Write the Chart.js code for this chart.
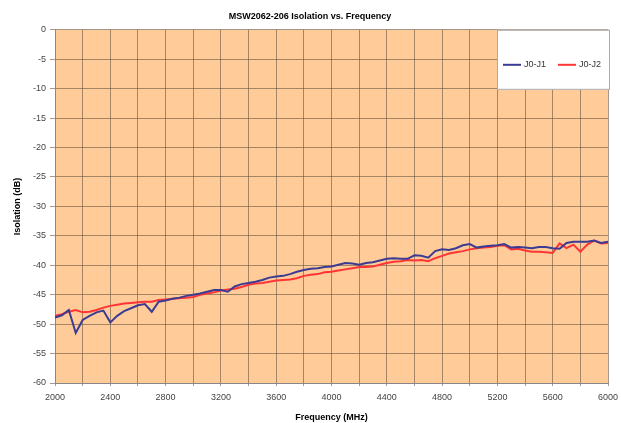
<!DOCTYPE html>
<html>
<head>
<meta charset="utf-8">
<script src="https://cdn.jsdelivr.net/npm/chart.js@4/dist/chart.umd.min.js"></script>
<style>
  body { margin: 0; background: #fff; }
  #wrap { width: 621px; height: 423px; }
</style>
</head>
<body>
<div id="wrap"><canvas id="chart"></canvas></div>
<script>
// frequency points (MHz), 50 MHz step
const freqs = [];
for (let f = 2000; f <= 6000; f += 50) freqs.push(f);

// J0-J1 isolation (dB)
const j0j1 = [
  -48.9, -48.5, -47.6, -51.5, -49.3, -48.6, -48.0, -47.7, -49.7, -48.6,
  -47.8, -47.3, -46.8, -46.6, -47.9, -46.2, -46.0, -45.7, -45.5, -45.2,
  -45.0, -44.8, -44.5, -44.2, -44.2, -44.5, -43.6, -43.2, -43.0, -42.8,
  -42.5, -42.1, -41.9, -41.8, -41.5, -41.1, -40.8, -40.6, -40.5, -40.3,
  -40.2, -39.9, -39.6, -39.7, -39.9, -39.6, -39.5, -39.2, -38.9, -38.8,
  -38.9, -38.9, -38.3, -38.4, -38.7, -37.6, -37.3, -37.4, -37.1, -36.6,
  -36.4, -37.0, -36.8, -36.7, -36.6, -36.4, -37.0, -36.9, -37.0, -37.1,
  -36.9, -36.9, -37.1, -37.2, -36.2, -36.0, -36.0, -36.0, -35.8, -36.2,
  -36.0
];

// J0-J2 isolation (dB)
const j0j2 = [
  -48.6, -48.3, -47.9, -47.6, -48.0, -47.9, -47.6, -47.2, -46.9, -46.7,
  -46.5, -46.4, -46.3, -46.2, -46.2, -45.9, -45.8, -45.7, -45.6, -45.5,
  -45.4, -45.0, -44.8, -44.6, -44.3, -44.1, -44.0, -43.7, -43.3, -43.1,
  -43.0, -42.8, -42.6, -42.5, -42.4, -42.2, -41.8, -41.6, -41.5, -41.2,
  -41.1, -40.9, -40.7, -40.5, -40.3, -40.3, -40.2, -39.9, -39.6, -39.4,
  -39.3, -39.1, -39.2, -39.1, -39.3, -38.8, -38.4, -38.0, -37.8, -37.6,
  -37.3, -37.1, -37.0, -36.9, -36.7, -36.6, -37.3, -37.2, -37.5, -37.7,
  -37.7, -37.8, -37.9, -36.3, -37.1, -36.5, -37.7, -36.5, -35.8, -36.3,
  -36.2
];

const seriesNames = ["J0-J1", "J0-J2"];
const seriesColors = ["#3b3b94", "#ff3535"];

const FONT = "Arial, 'Liberation Sans', sans-serif";
const toPoints = (vals) => vals.map((v, i) => ({ x: freqs[i], y: v }));

// orange plot background
const plotBg = {
  id: "plotBg",
  beforeDraw(chart) {
    const { ctx, chartArea: a } = chart;
    ctx.save();
    ctx.fillStyle = "#ffcc99";
    ctx.fillRect(a.left, a.top, a.right - a.left, a.bottom - a.top);
    ctx.restore();
  }
};

// Excel-style legend box inside the top right corner
const boxLegend = {
  id: "boxLegend",
  afterDraw(chart) {
    const { ctx, chartArea: a } = chart;
    const x0 = a.right - 111, y0 = a.top, w = 113, h = 60;
    ctx.save();
    ctx.fillStyle = "#fff";
    ctx.fillRect(x0, y0, w, h);
    ctx.strokeStyle = "#aaa";
    ctx.lineWidth = 1;
    ctx.strokeRect(x0 + 0.5, y0 + 0.5, w - 1, h - 1);
    ctx.font = "9px " + FONT;
    ctx.fillStyle = "#333";
    ctx.textBaseline = "middle";
    let x = x0 + 6;
    const y = y0 + 35;
    chart.data.datasets.forEach((ds) => {
      ctx.strokeStyle = ds.borderColor;
      ctx.lineWidth = 2;
      ctx.beginPath();
      ctx.moveTo(x, y);
      ctx.lineTo(x + 18, y);
      ctx.stroke();
      ctx.fillText(ds.label, x + 21, y);
      x += 55;
    });
    ctx.restore();
  }
};

new Chart(document.getElementById("chart"), {
  type: "line",
  data: {
    datasets: [
      {
        label: seriesNames[0],
        data: toPoints(j0j1),
        borderColor: seriesColors[0],
        borderWidth: 2,
        pointRadius: 0,
        tension: 0
      },
      {
        label: seriesNames[1],
        data: toPoints(j0j2),
        borderColor: seriesColors[1],
        borderWidth: 2,
        pointRadius: 0,
        tension: 0
      }
    ]
  },
  options: {
    responsive: true,
    maintainAspectRatio: false,
    animation: false,
    layout: { padding: { top: 3, right: 13, left: 12, bottom: 0 } },
    plugins: {
      legend: { display: false },
      tooltip: { enabled: false },
      title: {
        display: true,
        text: "MSW2062-206 Isolation vs. Frequency",
        color: "#000",
        font: { family: FONT, size: 9, weight: "bold" },
        padding: { top: 8, bottom: 8 }
      }
    },
    scales: {
      x: {
        type: "linear",
        min: 2000,
        max: 6000,
        ticks: {
          stepSize: 200,
          autoSkip: false,
          maxRotation: 0,
          color: "#444",
          font: { family: FONT, size: 9 },
          padding: 6,
          callback: (v) => (v % 400 === 0 ? String(v) : "")
        },
        grid: { color: "rgba(105,85,65,0.6)", lineWidth: 1, tickLength: 3 },
        border: { color: "#888" },
        title: {
          display: true,
          text: "Frequency (MHz)",
          color: "#000",
          font: { family: FONT, size: 9, weight: "bold" },
          padding: { top: 1, bottom: 0 }
        },
        afterFit: (s) => {
          s.height = 40;
          s.paddingLeft = 0;
          s.paddingRight = 0;
        }
      },
      y: {
        min: -60,
        max: 0,
        ticks: {
          stepSize: 5,
          color: "#444",
          font: { family: FONT, size: 9 },
          padding: 4
        },
        grid: { color: "rgba(105,85,65,0.6)", lineWidth: 1, tickLength: 5 },
        border: { color: "#888" },
        title: {
          display: true,
          text: "Isolation (dB)",
          color: "#000",
          font: { family: FONT, size: 9, weight: "bold" },
          padding: { top: 0, bottom: 4 }
        },
        afterFit: (s) => { s.width = 43; }
      }
    }
  },
  plugins: [plotBg, boxLegend]
});
</script>
</body>
</html>
